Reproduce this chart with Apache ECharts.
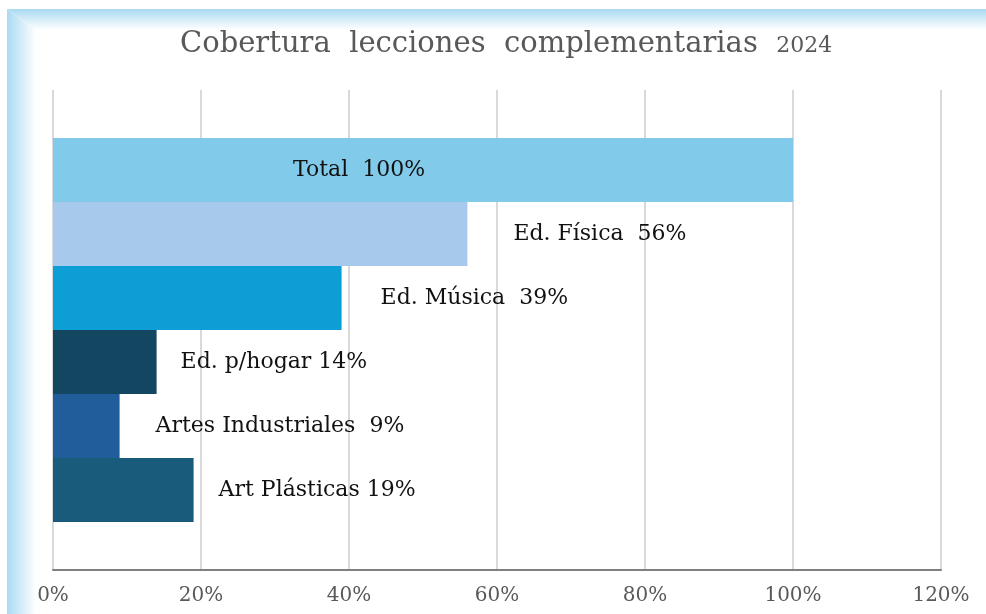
<!DOCTYPE html>
<html><head><meta charset="utf-8">
<script src="https://cdn.jsdelivr.net/npm/echarts@6/dist/echarts.min.js"></script>
<style>html,body{margin:0;padding:0;background:#fff}#c{width:986px;height:614px}</style>
</head><body><div id="c"></div>
<script>
const categories = ['Total', 'Ed. Física', 'Ed. Música', 'Ed. p/hogar', 'Artes Industriales', 'Art Plásticas'];
const values = [100, 56, 39, 14, 9, 19];
const labelTexts = ['Total  100%', 'Ed. Física  56%', 'Ed. Música  39%', 'Ed. p/hogar 14%', 'Artes Industriales  9%', 'Art Plásticas 19%'];
const tickLabels = ['0%', '20%', '40%', '60%', '80%', '100%', '120%'];
const titleText = 'Cobertura  lecciones  complementarias';
const subText = '2024';

const colors = ['#82CAEA', '#A7C9EB', '#0E9ED6', '#134660', '#215D9A', '#185B7A'];
const labelPos = [
  {position: 'insideLeft', distance: 240},
  {position: 'right', distance: 46},
  {position: 'right', distance: 39},
  {position: 'right', distance: 24},
  {position: 'right', distance: 36},
  {position: 'right', distance: 25}
];
const font = '"DejaVu Serif", "Liberation Serif", serif';

const chart = echarts.init(document.getElementById('c'));
const series = categories.map((name, i) => ({
  type: 'bar',
  name: name,
  data: [values[i]],
  barGap: '0%',
  barCategoryGap: '20%',
  itemStyle: {color: colors[i]},
  label: {
    show: true,
    position: labelPos[i].position,
    distance: labelPos[i].distance,
    formatter: () => labelTexts[i],
    fontFamily: font,
    fontSize: 22,
    color: '#111'
  },
  animation: false
}));

const frameBlue = '#A9DAF2';
chart.setOption({
  animation: false,
  backgroundColor: '#fff',
  graphic: [
    {type: 'polygon', z: -10, shape: {points: [[7, 9], [986, 9], [986, 30], [36, 30]]},
      style: {fill: new echarts.graphic.LinearGradient(0, 0, 0, 1, [{offset: 0, color: frameBlue}, {offset: 1, color: '#FFFFFF'}])}},
    {type: 'polygon', z: -10, shape: {points: [[7, 9], [36, 30], [36, 614], [7, 614]]},
      style: {fill: new echarts.graphic.LinearGradient(0, 0, 1, 0, [{offset: 0, color: frameBlue}, {offset: 1, color: '#FFFFFF'}])}}
  ],
  title: {
    text: titleText + '  {s|' + subText + '}',
    left: 175,
    top: 25,
    textStyle: {
      fontFamily: font, fontSize: 29, fontWeight: 'normal', color: '#595959',
      rich: {s: {fontFamily: font, fontSize: 22, color: '#595959', padding: [4, 0, 0, 0]}}
    }
  },
  grid: {left: 53, right: 45, top: 90, bottom: 44, containLabel: false},
  xAxis: {
    type: 'value', min: 0, max: 120, interval: 20,
    axisLine: {show: true, lineStyle: {color: '#7f7f7f', width: 2}},
    axisTick: {show: false},
    splitLine: {show: true, lineStyle: {color: '#d9d9d9', width: 2}},
    axisLabel: {
      formatter: (v) => tickLabels[Math.round(v / 20)],
      fontFamily: font, fontSize: 20, color: '#595959', margin: 16
    }
  },
  yAxis: {
    type: 'category', data: [''], inverse: true,
    axisLine: {show: false}, axisTick: {show: false}, axisLabel: {show: false}
  },
  series: series
});
</script></body></html>
